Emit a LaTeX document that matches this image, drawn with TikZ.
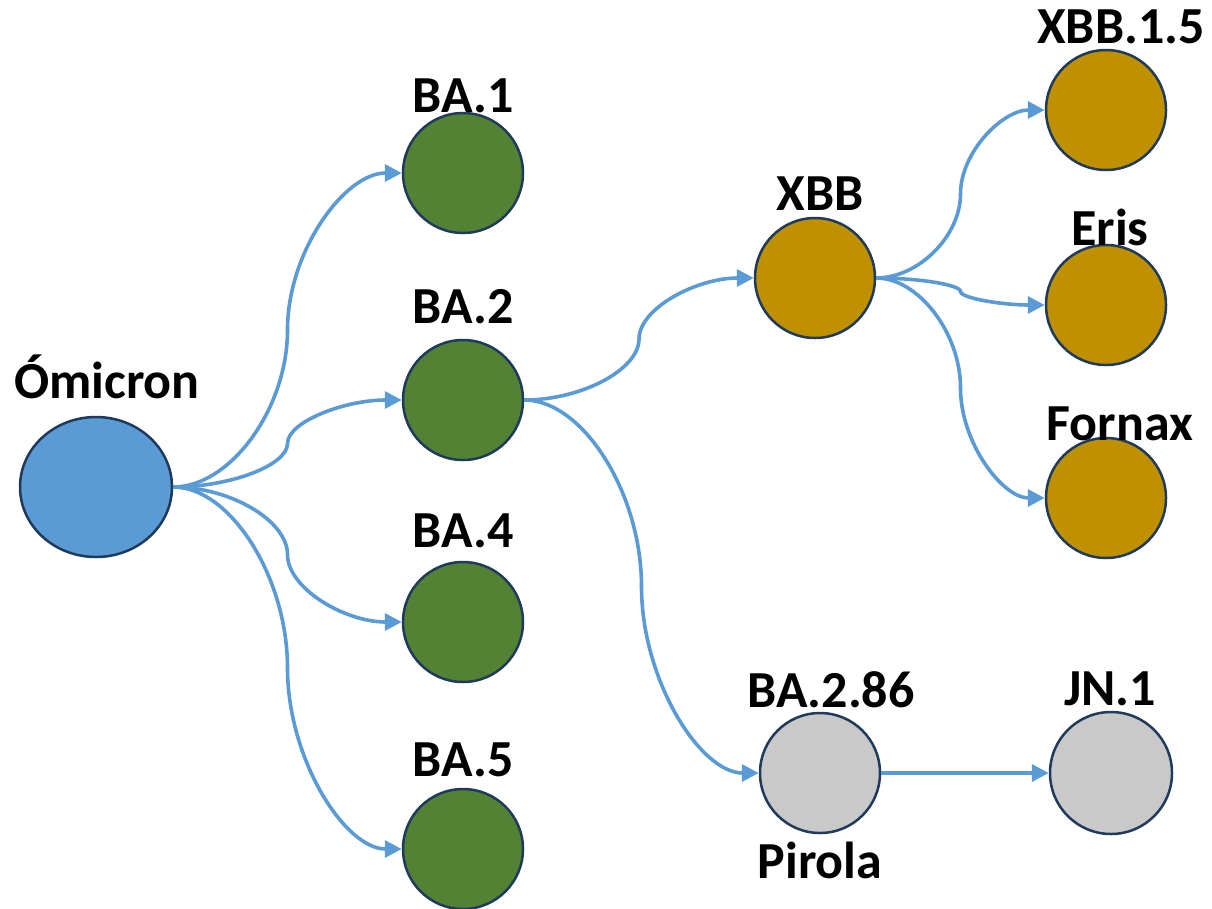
\documentclass[tikz,border=0pt]{standalone}
\usepackage{fontspec}
\setmainfont{Carlito}
\usetikzlibrary{arrows.meta,calc,shapes.geometric}
\definecolor{cblue}{HTML}{5B9BD5}
\definecolor{cgreen}{HTML}{548235}
\definecolor{cgold}{HTML}{BF9000}
\definecolor{cgrey}{HTML}{C9C9C9}
\definecolor{cedge}{HTML}{1F3A5A}
\tikzset{
  vnode/.style={circle, draw=cedge, line width=2.5pt, minimum size=120pt, inner sep=0pt},
  green/.style={vnode, fill=cgreen},
  gold/.style={vnode, fill=cgold},
  grey/.style={vnode, fill=cgrey},
  lbl/.style={anchor=base, font=\fontsize{52}{60}\selectfont\bfseries, inner sep=0pt},
  conn/.style={draw=cblue, line width=3.6pt, -{Triangle[length=17pt,width=17pt]}}
}
\newcommand\cconn[2]{\draw[conn] let \p1=(#1.east), \p2=(#2.west), \p3=($(\p1)!0.5!(\p2)$) in
  (\p1) .. controls ({(\x1+\x3)/2},\y1) and (\x3,{(3*\y1+\y2)/4}) .. (\p3)
        .. controls (\x3,{(\y1+3*\y2)/4}) and ({(\x3+\x2)/2},\y2) .. (\p2);}
\begin{document}
\begin{tikzpicture}[x=1pt,y=-1pt]
\useasboundingbox (0,0) rectangle (1212,908);
% nodes
\node[ellipse, draw=cedge, line width=2.5pt, fill=cblue, minimum width=152pt, minimum height=140pt, inner sep=0pt] (om) at (96,487) {};
\node[green] (ba1) at (463,173) {};
\node[green] (ba2) at (463,400) {};
\node[green] (ba4) at (463,622) {};
\node[green] (ba5) at (463,849) {};
\node[gold] (xbb) at (815,278) {};
\node[gold] (xbb15) at (1106,110) {};
\node[gold] (eris) at (1106,305) {};
\node[gold] (fornax) at (1106,498) {};
\node[grey] (ba286) at (820,773) {};
\node[grey, minimum size=122pt] (jn1) at (1111,773) {};
% labels
\node[lbl] (tom) at (107,398) {Ómicron};
\node[lbl] (tba1) at (463,112) {BA.1};
\node[lbl] (tba2) at (463,323) {BA.2};
\node[lbl] (tba4) at (463,547) {BA.4};
\node[lbl] (tba5) at (463,776) {BA.5};
\node[lbl] (txbb) at (820,210) {XBB};
\node[lbl] (txbb15) at (1121,43) {XBB.1.5};
\node[lbl] (teris) at (1110,245) {Eris};
\node[lbl] (tfornax) at (1120,440) {Fornax};
\node[lbl] (tba286) at (831,707) {BA.2.86};
\node[lbl] (tjn1) at (1110,705) {JN.1};
\node[lbl] (tpirola) at (820,878) {Pirola};
% connectors
\cconn{om}{ba1}
\cconn{om}{ba2}
\cconn{om}{ba4}
\cconn{om}{ba5}
\cconn{ba2}{xbb}
\cconn{ba2}{ba286}
\cconn{xbb}{xbb15}
\cconn{xbb}{eris}
\cconn{xbb}{fornax}
\draw[conn] (ba286.east) -- (jn1.west);
\end{tikzpicture}
\end{document}
